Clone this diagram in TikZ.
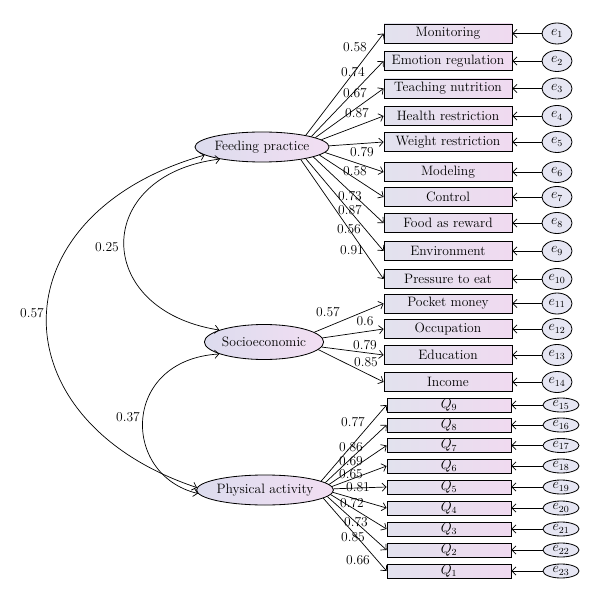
\documentclass[tikz,border=0pt]{standalone}
\usetikzlibrary{arrows.meta,shapes.geometric}

\definecolor{boxleft}{RGB}{226,226,238}
\definecolor{boxright}{RGB}{240,218,240}
\definecolor{ellleft}{RGB}{220,220,238}
\definecolor{ellright}{RGB}{242,222,242}

\tikzset{
  item/.style={draw, line width=0.7pt, left color=boxleft, right color=boxright,
    minimum width=3.84cm, minimum height=0.57cm, inner sep=0pt},
  qitem/.style={item, minimum width=3.72cm, minimum height=0.42cm},
  latent/.style={draw, ellipse, line width=0.7pt, left color=ellleft, right color=ellright, inner sep=0pt},
  err/.style={draw, ellipse, line width=0.7pt, fill=ellleft!70!white,
    minimum width=0.9cm, minimum height=0.63cm, inner sep=0pt},
  qerr/.style={err, minimum width=1.08cm, minimum height=0.42cm},
  load/.style={-{Straight Barb[length=3.5pt,width=7pt]}, line width=0.6pt},
  cov/.style={{Straight Barb[length=3.5pt,width=7pt]}-{Straight Barb[length=3.5pt,width=7pt]}, line width=0.6pt},
  coef/.style={inner sep=0pt}
}

\begin{document}
\begin{tikzpicture}[x=0.03cm, y=-0.03cm, font=\fontsize{11.6}{13.5}\selectfont]
    \useasboundingbox (0,0) rectangle (600,601);

    % 绘制潜变量
    \node[latent, minimum width=3.63cm, minimum height=0.9cm] (fp) at (262,147) {Feeding practice};
    \node[latent, minimum width=3.42cm, minimum height=1.05cm] (se) at (264,342) {Socioeconomic};
    \node[latent, minimum width=3.6cm, minimum height=0.9cm] (pa) at (265,490) {Physical activity};

    % 绘制观测变量和误差项
    \foreach \n/\y/\t in {1/33.5/Monitoring, 2/61/Emotion regulation, 3/88.5/Teaching nutrition,
        4/116/Health restriction, 5/142/Weight restriction, 6/172/Modeling, 7/197/Control,
        8/223/Food as reward, 9/251/Environment, 10/279/Pressure to eat, 11/303.5/Pocket money,
        12/329/Occupation, 13/355/Education, 14/382/Income} {
      \node[item] (m\n) at (448,\y) {\t};
      \node[err] (e\n) at (557,\y) {$e_{\n}$};
      \draw[load] (e\n) -- (m\n.east);
    }
    \foreach \k/\y in {9/405, 8/425, 7/445.5, 6/466, 5/487, 4/508, 3/529, 2/550, 1/571} {
      \pgfmathtruncatemacro{\e}{24-\k}
      \node[qitem] (q\k) at (449,\y) {$Q_{\k}$};
      \node[qerr] (e\e) at (561,\y) {$e_{\e}$};
      \draw[load] (e\e) -- (q\k.east);
    }

    % 绘制因子载荷
    \foreach \n/\a/\lx/\ly/\v in {1/15/355/47/0.58, 2/12/353/72/0.74, 3/10/355/93/0.67, 4/7/357/113/0.87,
        5/1/362/152/0.79, 6/-5/355/171/0.58, 7/-8/350/196/0.73, 8/-11/350/210/0.87,
        9/-15/349/229/0.56, 10/-18/352/250/0.91} {
      \draw[load] (fp.\a) -- (m\n.west);
      \node[coef] (lf\n) at (\lx,\ly) {\v};
    }
    \foreach \n/\a/\lx/\ly/\v in {11/11/328/312/0.57, 12/4/365/321/0.6, 13/-5/365/345/0.79, 14/-8/366/362/0.85} {
      \draw[load] (se.\a) -- (m\n.west);
      \node[coef] (ls\n) at (\lx,\ly) {\v};
    }
    \foreach \k/\a/\lx/\ly/\v in {9/9/353/422/0.77, 8/7/351/447/0.86, 7/5/351/461/0.69, 6/3/351/474/0.65,
        5/1/358/487/0.81, 4/-2/352/503/0.72, 3/-4/356/522/0.73, 2/-6/353/537/0.85, 1/-8/358/560/0.66} {
      \draw[load] (pa.\a) -- (q\k.west);
      \node[coef] (lp\k) at (\lx,\ly) {\v};
    }

    % 绘制相关
    \draw[cov] (fp.188) .. controls (-5,215) and (-5,420) .. (pa.178);
    \node (c1) at (32,313) {0.57};
    \draw[cov] (fp.196) .. controls (92,175) and (92,310) .. (se.165);
    \node[coef] (c2) at (107,247) {0.25};
    \draw[cov] (se.195) .. controls (121,360) and (121,475) .. (pa.183);
    \node[coef] (c3) at (128,417) {0.37};
\end{tikzpicture}
\end{document}
